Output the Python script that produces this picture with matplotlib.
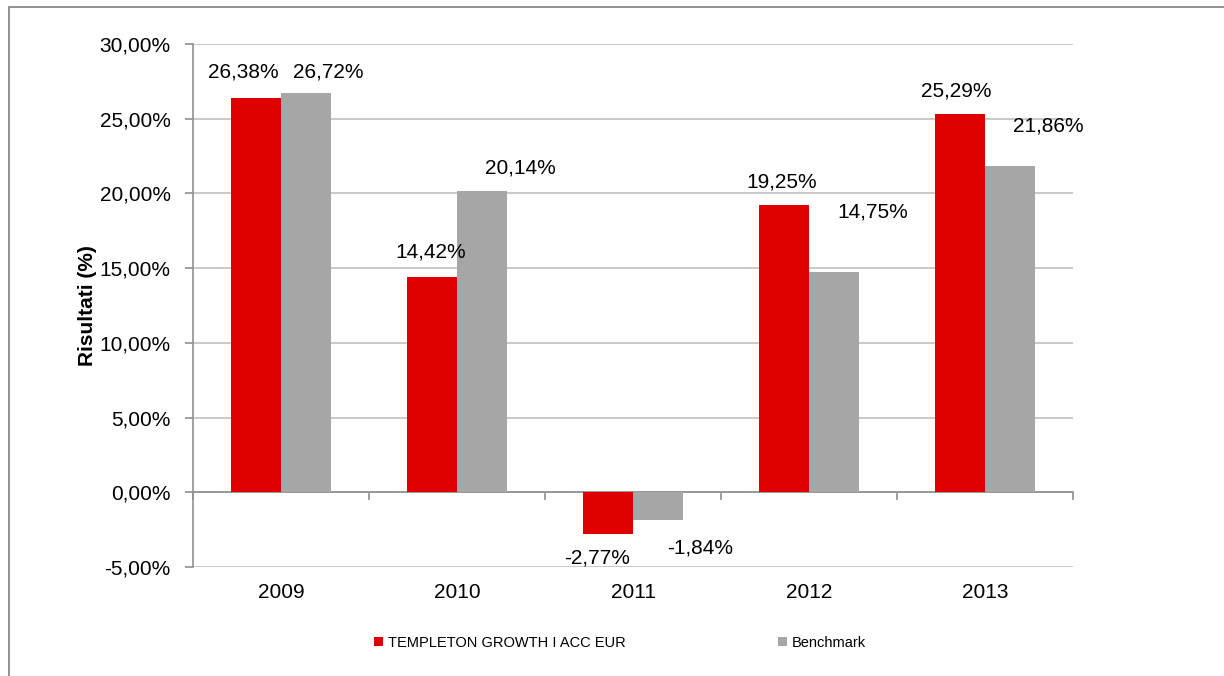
import matplotlib.pyplot as plt
import numpy as np
from matplotlib.patches import Rectangle

plt.rcParams["font.family"] = ["Liberation Sans", "DejaVu Sans"]

YEARS = ["2009", "2010", "2011", "2012", "2013"]
FUND = [26.38, 14.42, -2.77, 19.25, 25.29]
BENCH = [26.72, 20.14, -1.84, 14.75, 21.86]
SERIES = ["TEMPLETON GROWTH I ACC EUR", "Benchmark"]

# label offsets (pixels) relative to bar end, as placed in the original
FUND_OFFS = [(-13, 26), (-1, 25), (-11, -24), (-2, 23), (-4, 23)]
BENCH_OFFS = [(22, 21), (38, 23), (42, -28), (39, 60), (38, 40)]

RED = "#E00000"
GREY = "#A6A6A6"
FS = 15


def fmt(v):
    return f"{v:.2f}%".replace(".", ",")


fig = plt.figure(figsize=(12.24, 6.76), dpi=100)
fig.patches.append(Rectangle((9 / 1224, -0.1), 1.2, 1.1 - 7 / 676,
                             transform=fig.transFigure, fill=False,
                             edgecolor="#808080", linewidth=1.2))
ax = fig.add_axes([193 / 1224, 1 - 567 / 676, 880 / 1224, 523 / 676])

x = np.arange(len(YEARS))
w = 50 / 176
b1 = ax.bar(x - w / 2, FUND, w, color=RED, label=SERIES[0], zorder=3)
b2 = ax.bar(x + w / 2, BENCH, w, color=GREY, label=SERIES[1], zorder=3)

for bars, vals, offs in [(b1, FUND, FUND_OFFS), (b2, BENCH, BENCH_OFFS)]:
    for r, v, (dx, dy) in zip(bars, vals, offs):
        ax.annotate(fmt(v), (r.get_x() + r.get_width() / 2, v),
                    xytext=(dx, dy), textcoords="offset pixels",
                    ha="center", va="center", fontsize=FS, color="black")

ax.set_xlim(-0.5, len(YEARS) - 0.5)
ax.set_ylim(-5, 30)
yt = np.arange(-5, 31, 5)
ax.set_yticks(yt)
ax.set_yticklabels([fmt(t) for t in yt], fontsize=FS)
ax.grid(axis="y", color="#c0c0c0", linewidth=1.2, zorder=0)
ax.set_axisbelow(True)

for s in ["top", "right"]:
    ax.spines[s].set_visible(False)
ax.spines["left"].set_color("#909090")
ax.spines["left"].set_linewidth(1.2)
ax.spines["bottom"].set_position(("data", 0))
ax.spines["bottom"].set_color("#909090")
ax.spines["bottom"].set_linewidth(1.2)
ax.tick_params(axis="y", length=6, color="#909090", width=1.2, pad=10)
ax.set_xticks(np.arange(-0.5, len(YEARS) + 0.5, 1))
ax.set_xticklabels([])
ax.tick_params(axis="x", length=6, color="#909090", width=1.2)

for xi, yr in zip(x, YEARS):
    ax.annotate(yr, (xi, -5), xytext=(0, -25), textcoords="offset pixels",
                ha="center", va="center", fontsize=FS)

ax.set_ylabel("Risultati (%)", fontsize=FS, fontweight="bold", labelpad=2)

fig.legend(handles=[b1, b2], labels=SERIES, loc="center",
           bbox_to_anchor=(620 / 1224, 1 - 643 / 676), ncol=2, frameon=False,
           fontsize=10.5, handlelength=0.6, handleheight=0.6, handletextpad=0.3,
           columnspacing=10.5)

fig.savefig("out.png", dpi=100)
